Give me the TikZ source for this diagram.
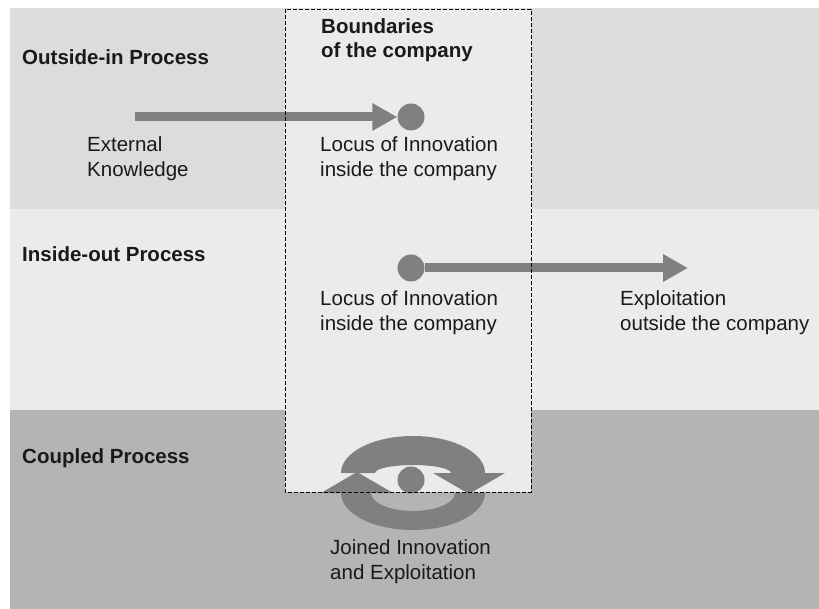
\documentclass[tikz,border=0pt]{standalone}
\usepackage{fontspec}
\setmainfont{Liberation Sans}
\usetikzlibrary{arrows.meta}
\definecolor{bandA}{HTML}{DCDCDC}
\definecolor{bandB}{HTML}{EBEBEB}
\definecolor{bandC}{HTML}{B4B4B4}
\definecolor{arrowgray}{HTML}{808080}
\definecolor{textcol}{HTML}{1A1A1A}
\begin{document}
\begin{tikzpicture}[x=1pt,y=-1pt,
  lbl/.style={anchor=west, align=left, inner sep=0pt, text=textcol, font=\fontsize{20.5}{25}\selectfont},
  head/.style={anchor=west, align=left, inner sep=0pt, text=textcol, font=\fontsize{20.5}{24}\selectfont\bfseries},
  dotnode/.style={circle, fill=arrowgray, minimum size=27pt, inner sep=0pt},
  bigarrow/.style={draw=arrowgray, line width=9pt, -{Triangle[length=25pt,width=26pt,fill=arrowgray]}},
  iconshape/.style={fill=arrowgray},
  boundary/.style={draw=black, line width=0.9pt, dash pattern=on 4pt off 2pt}
]
\useasboundingbox (0,0) rectangle (819,609);
\fill[white] (0,0) rectangle (819,609);
% bands
\fill[bandA] (10,8) rectangle (819,209);
\fill[bandB] (10,209) rectangle (819,410);
\fill[bandC] (10,410) rectangle (819,609);
% company box fill
\fill[bandB] (285,9) rectangle (531,492);

% headings
\node[head] (h1) at (22,57) {Outside-in Process};
\node[head] (h2) at (22,254) {Inside-out Process};
\node[head] (h3) at (22,458) {Coupled Process};
\node[head] (bnd) at (321,40) {Boundaries\\of the company};

% outside-in
\coordinate (ext) at (135,117);
\node[dotnode] (dot1) at (411,117) {};
\draw[bigarrow] (ext) -- (dot1.west);
\node[lbl] (extl) at (87,158.5) {External\\Knowledge};
\node[lbl] (loc1) at (320,158.5) {Locus of Innovation\\inside the company};

% inside-out
\node[dotnode] (dot2) at (411,268) {};
\coordinate (expl) at (688,268);
\draw[bigarrow] (dot2.east) -- (expl);
\node[lbl] (loc2) at (320,312.5) {Locus of Innovation\\inside the company};
\node[lbl] (expll) at (620,312.5) {Exploitation\\outside the company};

% coupled icon
\fill[iconshape] (341,473) arc[start angle=180, end angle=360, x radius=72, y radius=37]
  -- (505,473) -- (469,494) -- (433,473) -- (451,473)
  arc[start angle=360, end angle=180, x radius=38, y radius=8] -- cycle;
\fill[iconshape] (485,493) arc[start angle=0, end angle=180, x radius=72, y radius=37]
  -- (321,493) -- (357,472) -- (393,493) -- (371,493)
  arc[start angle=180, end angle=0, x radius=42, y radius=18] -- cycle;
\node[dotnode] (dot3) at (411,480) {};
\node[lbl] (joined) at (330,561.5) {Joined Innovation\\and Exploitation};

% company boundary
\draw[boundary] (285,9) rectangle (531,492);
\end{tikzpicture}
\end{document}
